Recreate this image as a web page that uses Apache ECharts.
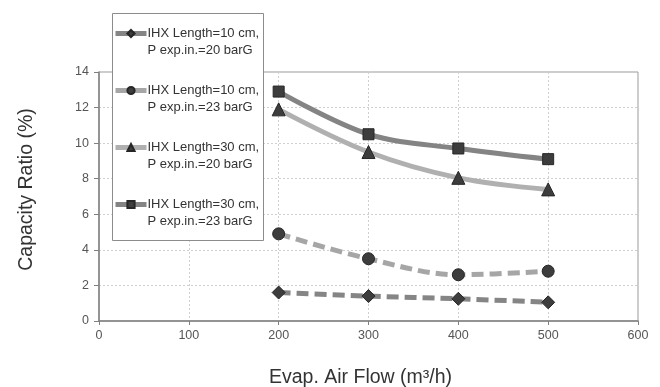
<!DOCTYPE html>
<html>
<head>
<meta charset="utf-8">
<script src="https://cdn.jsdelivr.net/npm/echarts@6/dist/echarts.min.js"></script>
<style>
html,body{margin:0;padding:0;background:#fff;}
#chart{width:660px;height:387px;}
</style>
</head>
<body>
<div id="chart"></div>
<script>
var airFlow = [200, 300, 400, 500];
var seriesNames = [
  'IHX Length=10 cm,\nP exp.in.=20 barG',
  'IHX Length=10 cm,\nP exp.in.=23 barG',
  'IHX Length=30 cm,\nP exp.in.=20 barG',
  'IHX Length=30 cm,\nP exp.in.=23 barG'
];
var len10p20 = [1.6, 1.4, 1.25, 1.05];
var len10p23 = [4.9, 3.5, 2.6, 2.8];
var len30p20 = [11.9, 9.5, 8.05, 7.4];
var len30p23 = [12.9, 10.5, 9.7, 9.1];
var xTicks = [0, 100, 200, 300, 400, 500, 600];
var yTicks = [0, 2, 4, 6, 8, 10, 12, 14];

function pairs(vals) {
  return airFlow.map(function (x, i) { return [x, vals[i]]; });
}

var chart = echarts.init(document.getElementById('chart'));
var font = 'Liberation Sans, Arial, sans-serif';
var markerStyle = { color: '#3d3d3d', borderColor: '#262626', borderWidth: 1 };
var lineColors = ['#858585', '#a6a6a6', '#b0b0b0', '#848484'];

function mk(idx, vals, symbol, size, dashed) {
  return {
    name: seriesNames[idx],
    type: 'line',
    data: pairs(vals),
    smooth: 0.35,
    symbol: symbol,
    symbolSize: size,
    showAllSymbol: true,
    itemStyle: markerStyle,
    lineStyle: { color: lineColors[idx], width: 5, type: dashed ? [12, 6] : 'solid', cap: 'butt' },
    z: 3
  };
}

chart.setOption({
  animation: false,
  backgroundColor: '#fff',
  textStyle: { fontFamily: font },
  grid: { left: 99, right: 22, top: 72, bottom: 66, show: true, borderColor: '#9a9a9a', borderWidth: 1, containLabel: false, outerBoundsMode: 'none' },
  graphic: [{
    type: 'rect',
    shape: { x: 112.5, y: 13.5, width: 151, height: 227 },
    style: { fill: '#fff', stroke: '#8c8c8c', lineWidth: 1 },
    z: 10
  }],
  legend: {
    orient: 'vertical',
    left: 113,
    top: 8,
    padding: 0,
    itemGap: 6,
    itemWidth: 31,
    itemHeight: 9,
    z: 20,
    formatter: function (n) { return '\n' + n; },
    textStyle: { fontFamily: font, fontSize: 13, color: '#333', lineHeight: 17, padding: [0, 0, 0, -4] },
    data: seriesNames.map(function (n, i) {
      return { name: n, lineStyle: { type: 'solid', width: 5, color: lineColors[i] } };
    })
  },
  xAxis: {
    type: 'value',
    min: 0, max: 600, interval: 100,
    name: 'Evap. Air Flow (m³/h)',
    nameLocation: 'middle',
    nameGap: 47,
    nameTextStyle: { fontSize: 19.5, color: '#333', fontFamily: font, padding: [0, 16, 0, 0] },
    axisLine: { show: true, lineStyle: { color: '#808080', width: 1.5 } },
    axisTick: { show: true, length: 4, lineStyle: { color: '#808080' } },
    axisLabel: { fontSize: 12.5, color: '#555', margin: 8, formatter: function (v) { return xTicks.indexOf(v) >= 0 ? String(v) : ''; } },
    splitLine: { show: true, lineStyle: { color: '#cfcfcf', type: [2, 2] } }
  },
  yAxis: {
    type: 'value',
    min: 0, max: 14, interval: 2,
    name: 'Capacity Ratio (%)',
    nameLocation: 'middle',
    nameGap: 62,
    nameTextStyle: { fontSize: 19.5, color: '#333', fontFamily: font, padding: [0, 0, 0, 14] },
    axisLine: { show: true, lineStyle: { color: '#808080', width: 1.5 } },
    axisTick: { show: true, length: 5, lineStyle: { color: '#808080' } },
    axisLabel: { fontSize: 12.5, color: '#555', margin: 10, formatter: function (v) { return yTicks.indexOf(v) >= 0 ? String(v) : ''; } },
    splitLine: { show: true, lineStyle: { color: '#cfcfcf', type: [2, 2] } }
  },
  series: [
    mk(0, len10p20, 'diamond', 13, true),
    mk(1, len10p23, 'circle', 12, true),
    mk(2, len30p20, 'triangle', 13, false),
    mk(3, len30p23, 'rect', 11, false)
  ]
});
</script>
</body>
</html>
